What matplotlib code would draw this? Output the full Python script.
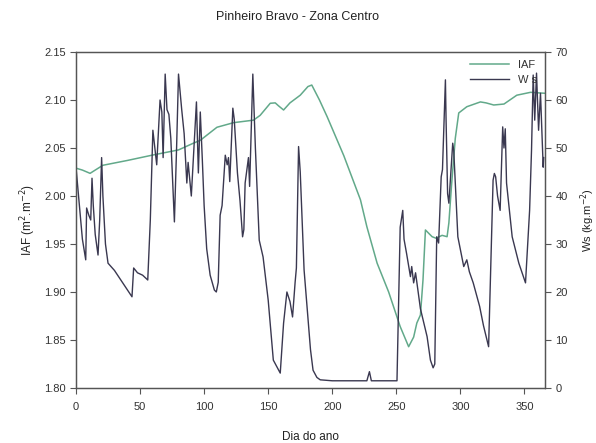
import matplotlib

matplotlib.use("Agg")
from matplotlib import pyplot as plt

plt.rcParams["font.family"] = ["Liberation Sans", "DejaVu Sans"]

# IAF (left axis)
iaf_day = [
    0, 5, 11, 15, 21, 40, 60, 80, 91.6, 97, 110, 123, 138.5, 143.7, 151.6,
    155.5, 158, 162, 167, 175, 181, 184, 190, 196, 209, 222, 227, 235, 244,
    253, 259.6, 263.5, 266, 268.8, 270.8, 272.7, 277.9, 281, 285.7, 289.6,
    291, 293, 296, 298.7, 305, 315.6, 320, 326, 334, 344, 354.7, 366,
]
iaf_val = [
    2.029, 2.027, 2.0236, 2.027, 2.032, 2.037, 2.0427, 2.048, 2.055, 2.058,
    2.0716, 2.0764, 2.079, 2.084, 2.0966, 2.097, 2.094, 2.0896, 2.097, 2.105,
    2.114, 2.1156, 2.100, 2.0826, 2.042, 1.996, 1.968, 1.930, 1.900, 1.864,
    1.843, 1.853, 1.8677, 1.876, 1.9125, 1.9646, 1.9576, 1.956, 1.959,
    1.9576, 1.972, 2.01, 2.06, 2.0865, 2.093, 2.098, 2.097, 2.0948, 2.0958,
    2.105, 2.108, 2.107,
]

# Ws (right axis)
ws_day = [
    0, 2, 5, 7.6, 8.3, 10, 11.5, 12.5, 13.5, 15, 17.2, 18.5, 20, 21, 23, 25,
    30, 35, 40, 43.7, 45, 48, 52, 56, 58, 60, 61.5, 63, 65.6, 67, 68, 69.6,
    71, 72.5, 74, 76.8, 78.5, 80, 82.5, 84.4, 86.5, 87.5, 90, 92, 94, 95.5,
    97, 98.6, 100, 102, 104.7, 108, 109.5, 111, 112.5, 114, 116.5, 118, 119,
    120, 122.4, 123.5, 126, 128, 130, 131, 132, 134.6, 135.5, 138, 140, 143,
    146, 150, 154, 156.8, 159.4, 162, 164.6, 167, 169, 171, 172, 173.7, 175,
    178, 183, 185, 188, 190.6, 200, 227, 229, 230.5, 250.5, 253, 255, 256,
    258, 261, 262, 263.5, 265, 268.8, 274, 276.6, 278.7, 280, 281.5, 283,
    285, 286, 288.3, 288.8, 290, 291, 294, 294.8, 298, 302.6, 305, 307, 310,
    315, 318, 322, 325.5, 326.5, 327.5, 329, 331, 333, 334, 335, 336, 340.4,
    345.6, 350.8, 354, 355.5, 356.8, 358, 359.4, 361, 362.5, 364.6, 365,
]
ws_val = [
    46, 40, 31, 26.7, 37.5, 36, 35, 43.7, 38, 32, 27.7, 35, 48, 40, 30, 26,
    24.5, 22.5, 20.5, 19, 25, 24, 23.5, 22.5, 35, 53.7, 50, 46.5, 60, 57.5,
    48, 65.4, 58, 57, 52, 34.6, 50, 65.4, 58, 53, 42.7, 47, 40, 50, 59.6,
    44.8, 57.5, 47.5, 38, 29, 23.5, 20.4, 20, 22, 36, 38, 48.5, 46.5, 48, 43,
    58.3, 56, 44.8, 39, 31.5, 33, 42.7, 48, 42, 65.4, 50, 30.8, 27.3, 18.3,
    5.8, 4.4, 3.1, 13.5, 20, 18, 14.8, 22, 25, 50.3, 45, 24.6, 8, 3.7, 2.2,
    1.7, 1.5, 1.5, 3.4, 1.5, 1.5, 33.5, 37, 31, 28, 23.2, 25.3, 21.9, 24,
    16.5, 10.7, 5.8, 4.2, 5, 31.5, 30.2, 44, 45.5, 64.2, 56, 40.5, 38.5, 51,
    49.5, 31.5, 25.3, 26.7, 24.2, 21.9, 17, 13, 8.6, 43.3, 44.7, 44, 40, 37,
    54.4, 50, 54, 42.7, 31.5, 26, 21.9, 37, 49.6, 65.2, 55.8, 65.6, 53.7,
    61.4, 46, 48,
]

iaf_ticks = [1.80, 1.85, 1.90, 1.95, 2.00, 2.05, 2.10, 2.15]
ws_ticks = [0, 10, 20, 30, 40, 50, 60, 70]
day_ticks = [0, 50, 100, 150, 200, 250, 300, 350]

IAF_COLOR = "#62a98a"
WS_COLOR = "#3a3850"
AXIS_COLOR = "#555555"


def style_axis(ax):
    """Grey spines and outward ticks like the original figure."""
    for spine in ax.spines.values():
        spine.set_color(AXIS_COLOR)
        spine.set_linewidth(0.9)
    ax.tick_params(
        direction="out", length=4, width=0.8, colors=AXIS_COLOR,
        labelcolor="#333333", labelsize=8,
    )


fig = plt.figure(figsize=(5.96, 4.43), dpi=100)
ax = fig.add_axes([0.1275, 0.1242, 0.7869, 0.7584])
ax2 = ax.twinx()

(l1,) = ax.plot(iaf_day, iaf_val, color=IAF_COLOR, lw=1.1, label="IAF")
(l2,) = ax2.plot(ws_day, ws_val, color=WS_COLOR, lw=1.0, label="W s")

ax.set_xlim(0, 366)
ax.set_ylim(1.80, 2.15)
ax2.set_ylim(0, 70)
ax.set_xticks(day_ticks)
ax.set_yticks(iaf_ticks)
ax.set_yticklabels([f"{v:.2f}" for v in iaf_ticks])
ax2.set_yticks(ws_ticks)
style_axis(ax)
style_axis(ax2)
ax.tick_params(axis="x", pad=6)

ax.set_xlabel("Dia do ano", fontsize=8.5, color="#222222", labelpad=14)
ax.set_ylabel("IAF (m$^2$.m$^{-2}$)", fontsize=8.5, color="#222222")
ax2.set_ylabel("Ws (kg.m$^{-2}$)", fontsize=8, color="#222222", labelpad=8)
fig.suptitle(
    "Pinheiro Bravo - Zona Centro", fontsize=9, color="#222222", y=0.975
)

ax2.legend(
    [l1, l2], ["IAF", "W s"], loc="upper right", frameon=False, fontsize=8,
    handlelength=3.5, labelspacing=0.5, borderaxespad=0.3,
    labelcolor="#333333",
)

fig.savefig("out.png", dpi=100)
